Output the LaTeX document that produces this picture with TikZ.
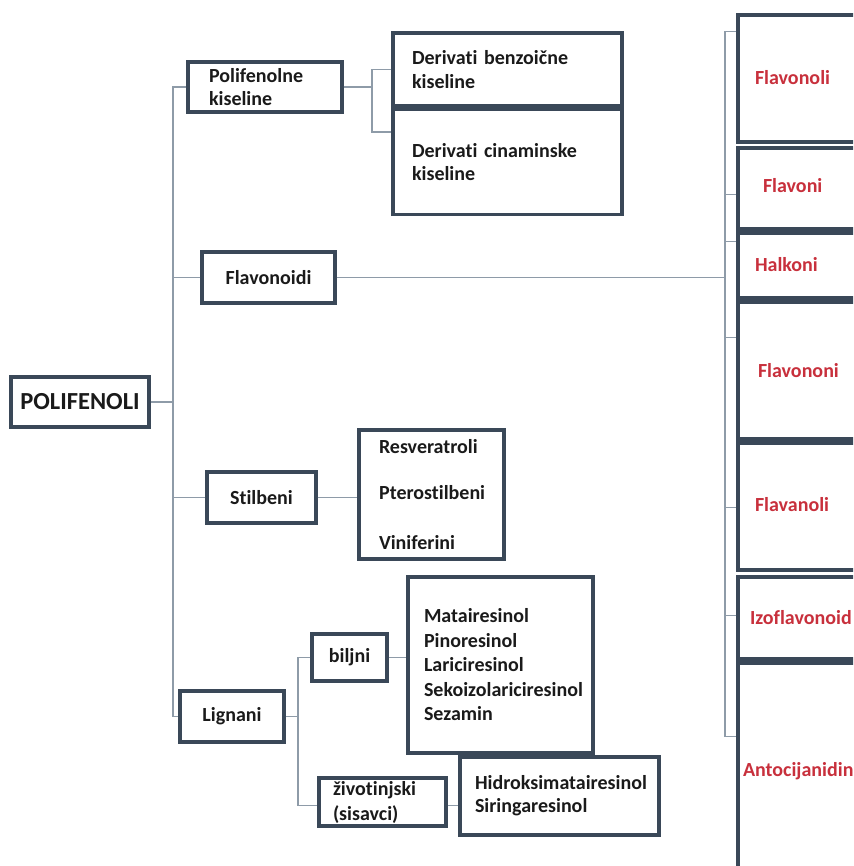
\documentclass[tikz,border=0pt]{standalone}
\usepackage{fontspec}
\setmainfont{Carlito}[Ligatures=NoCommon]
\definecolor{boxc}{HTML}{3A4858}
\definecolor{linec}{HTML}{8E9BA8}
\definecolor{redt}{HTML}{C8303C}
\definecolor{txt}{HTML}{1A1A1A}
\begin{document}
\begin{tikzpicture}[x=1pt,y=-1pt,
  box/.style={draw=boxc, line width=3.2pt, fill=white, inner sep=0pt, text=txt,
    font=\bfseries\fontsize{20}{23}\selectfont},
  lbox/.style={box, align=left},
  cbox/.style={box, align=center},
  rbox/.style={box, align=left, text=redt, minimum width=137pt},
  conn/.style={draw=linec, line width=1.5pt}]
\useasboundingbox (0,0) rectangle (853,866);
\clip (0,0) rectangle (853,866);
\fill[white] (0,0) rectangle (853,866);

% root
\node[cbox, minimum width=138pt, minimum height=50pt, font=\bfseries\fontsize{24.5}{28}\selectfont] (poli) at (80,402) {POLIFENOLI};

% level 1
\node[lbox, minimum width=154pt, minimum height=50pt, text width=112pt] (pk) at (265,87) {Polifenolne\\kiseline};
\node[cbox, minimum width=133pt, minimum height=51pt] (fl) at (268.5,277.5) {Flavonoidi};
\node[cbox, minimum width=109pt, minimum height=51pt] (st) at (261.5,497.5) {Stilbeni};
\node[cbox, minimum width=104pt, minimum height=51pt] (lig) at (232,716.5) {Lignani};

% polifenolne kiseline children
\node[lbox, minimum width=229pt, minimum height=73pt, text width=191pt,
  font=\bfseries\fontsize{20}{22}\selectfont] (db) at (507.5,69.5) {\raisebox{2pt}{Derivati benzoične}\\kiseline};
\node[lbox, minimum width=229pt, minimum height=105pt, text width=191pt] (dc) at (507.5,162) {Derivati cinaminske\\kiseline};

% stilbeni list
\node[lbox, minimum width=145pt, minimum height=129pt, text width=105pt,
  font=\bfseries\fontsize{20}{49.5}\selectfont] (sl) at (431.5,494.5) {\raisebox{-3pt}{Resveratroli}\\Pterostilbeni\\Viniferini};

% lignani children
\node[cbox, minimum width=75pt, minimum height=47pt] (bi) at (349.5,657.5) {biljni};
\node[lbox, minimum width=127pt, minimum height=48pt, text width=99pt,
  font=\bfseries\fontsize{20}{25}\selectfont] (zi) at (382.5,802) {životinjski\\(sisavci)};
\node[lbox, minimum width=185pt, minimum height=176pt, text width=153pt,
  font=\bfseries\fontsize{20}{24.5}\selectfont] (bl) at (500.5,665) {Matairesinol\\Pinoresinol\\Lariciresinol\\Sekoizolariciresinol\\Sezamin};
\node[lbox, minimum width=199pt, minimum height=78pt, text width=169pt,
  font=\bfseries\fontsize{20}{23}\selectfont] (zl) at (559.5,796) {Hidroksimatairesinol\\Siringaresinol};

% flavonoid classes (right column)
\node[rbox, minimum height=127pt, text width=103pt] (r1) at (806.5,78.5) {\raisebox{3pt}{Flavonoli}};
\node[rbox, minimum height=81pt, text width=87pt] (r2) at (806.5,188.5) {\raisebox{6pt}{Flavoni}};
\node[rbox, minimum height=65pt, text width=103pt] (r3) at (806.5,265.5) {\raisebox{3pt}{Halkoni}};
\node[rbox, minimum height=137pt, text width=97pt] (r4) at (806.5,370.5) {\raisebox{-4pt}{Flavononi}};
\node[rbox, minimum height=127pt, text width=103pt] (r5) at (806.5,506.5) {\raisebox{4pt}{Flavanoli}};
\node[rbox, minimum height=82pt, text width=113pt] (r6) at (806.5,618) {\raisebox{-2pt}{Izoflavonoid}};
\node[rbox, minimum height=217pt, text width=127pt] (r7) at (806.5,771.5) {Antocijanidin};

% connectors
\coordinate (tx) at (173,0);
\coordinate (f1) at (372,0);
\coordinate (f2) at (725,0);
\coordinate (f3) at (298,0);

\draw[conn] (poli.east) -- (poli.east -| tx);
\draw[conn] (pk.west) -- (pk.west -| tx) -- (lig.west -| tx) -- (lig.west);
\draw[conn] (fl.west) -- (fl.west -| tx);
\draw[conn] (st.west) -- (st.west -| tx);

\draw[conn] (pk.east) -- (pk.east -| f1);
\draw[conn] ([yshift=-38pt]db.north west) -- ([yshift=-38pt]db.north west -| f1)
  -- ([yshift=-24pt]dc.north west -| f1) -- ([yshift=-24pt]dc.north west);

\draw[conn] (fl.east) -- (fl.east -| f2);
\draw[conn] ([yshift=-18pt]r1.north west) -- ([yshift=-18pt]r1.north west -| f2)
  -- ([yshift=-75pt]r7.north west -| f2) -- ([yshift=-75pt]r7.north west);
\draw[conn] ([yshift=-48pt]r2.north west) -- ([yshift=-48pt]r2.north west -| f2);
\draw[conn] ([yshift=-10pt]r3.north west) -- ([yshift=-10pt]r3.north west -| f2);
\draw[conn] ([yshift=-37pt]r4.north west) -- ([yshift=-37pt]r4.north west -| f2);
\draw[conn] ([yshift=-66pt]r5.north west) -- ([yshift=-66pt]r5.north west -| f2);
\draw[conn] ([yshift=-40pt]r6.north west) -- ([yshift=-40pt]r6.north west -| f2);

\draw[conn] (st.east) -- (sl.west |- st.east);

\draw[conn] (lig.east) -- (lig.east -| f3);
\draw[conn] (bi.west) -- (bi.west -| f3) -- ([yshift=-29pt]zi.north west -| f3) -- ([yshift=-29pt]zi.north west);
\draw[conn] (bi.east) -- (bl.west |- bi.east);
\draw[conn] ([yshift=-29pt]zi.north east) -- ([yshift=-29pt]zi.north east -| zl.west);
\end{tikzpicture}
\end{document}
